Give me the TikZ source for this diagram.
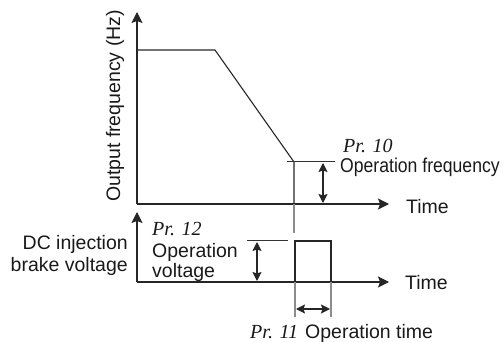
\documentclass[tikz,border=0pt]{standalone}
\usepackage{fontspec}
\setmainfont{Liberation Sans}
\newfontfamily\condfont{Liberation Sans}[FakeStretch=0.88]
\newfontfamily\prfont{Liberation Serif}
\usetikzlibrary{arrows.meta}
\begin{document}
\begin{tikzpicture}[x=1pt,y=-1pt,
  ax/.style={line width=1.2pt,draw=black!85,-{Stealth[length=11pt,width=11pt,inset=2pt]}},
  curve/.style={line width=1.1pt,draw=black!85},
  thin/.style={line width=1pt,draw=black!80},
  guide/.style={line width=1.1pt,draw=black!45},
  dim/.style={line width=1.1pt,draw=black!85,{Stealth[length=9pt,width=9pt,inset=1.5pt]}-{Stealth[length=9pt,width=9pt,inset=1.5pt]}},
  lbl/.style={inner sep=0pt,font=\fontsize{19.5}{21}\selectfont},
  prl/.style={inner sep=0pt,font=\prfont\itshape\fontsize{20}{22}\selectfont},
  every node/.style={text=black!90}]
\useasboundingbox (0,0) rectangle (504,342);
% upper axes
\coordinate (o1) at (137,204);
\coordinate (y1) at (137,12);
\coordinate (x1) at (389,204);
\draw[ax] (o1) -- (y1);
\draw[ax] (o1) -- (x1);
% frequency curve
\coordinate (c0) at (137,50);
\coordinate (c1) at (215,50);
\coordinate (c2) at (294,162);
\coordinate (c3) at (294,204);
\draw[curve] (c0) -- (c1) -- (c2) -- (c3);
\coordinate (t1a) at (287,162);
\coordinate (t1b) at (335,162);
\draw[thin] (t1a) -- (t1b);
\coordinate (d1a) at (323,163);
\coordinate (d1b) at (323,203);
\draw[dim] (d1a) -- (d1b);
\coordinate (g1) at (294,233);
\draw[guide] (c3) -- (g1);
% lower axes
\coordinate (o2) at (137,282);
\coordinate (y2) at (137,212);
\coordinate (x2) at (389,282);
\draw[ax] (o2) -- (y2);
\draw[ax] (o2) -- (x2);
% pulse
\coordinate (p0) at (295,282);
\coordinate (p1) at (295,241);
\coordinate (p2) at (331,241);
\coordinate (p3) at (331,282);
\draw[curve] (p0) -- (p1) -- (p2) -- (p3);
\coordinate (t2a) at (247,241);
\coordinate (t2b) at (288,241);
\draw[thin] (t2a) -- (t2b);
\coordinate (d2a) at (257,242);
\coordinate (d2b) at (257,281);
\draw[dim] (d2a) -- (d2b);
\coordinate (g2) at (295,317);
\coordinate (g3) at (331,317);
\draw[guide] (p0) -- (g2);
\draw[guide] (p3) -- (g3);
\coordinate (d3a) at (296,309);
\coordinate (d3b) at (330,309);
\draw[dim] (d3a) -- (d3b);
% labels
\node[lbl,rotate=90,anchor=base] (ylab) at (120,106) {Output frequency (Hz)};
\node[prl,anchor=base west] (pr10) at (343,153) {Pr. 10};
\node[lbl,anchor=base west,font=\condfont\fontsize{20}{22}\selectfont] (opf) at (340,173) {Operation frequency};
\node[lbl,anchor=base west] (time1) at (406,214) {Time};
\node[lbl,anchor=base east] (dc1) at (128,250) {DC injection};
\node[lbl,anchor=base east] (dc2) at (128,272) {brake voltage};
\node[prl,anchor=base west] (pr12) at (152,236) {Pr. 12};
\node[lbl,anchor=base west] (opv1) at (152,258) {Operation};
\node[lbl,anchor=base west] (opv2) at (152,278) {voltage};
\node[lbl,anchor=base west] (time2) at (405,289) {Time};
\node[prl,anchor=base west] (pr11) at (250,338) {Pr. 11};
\node[lbl,anchor=base west] (opt) at (305,338) {Operation time};
\end{tikzpicture}
\end{document}
